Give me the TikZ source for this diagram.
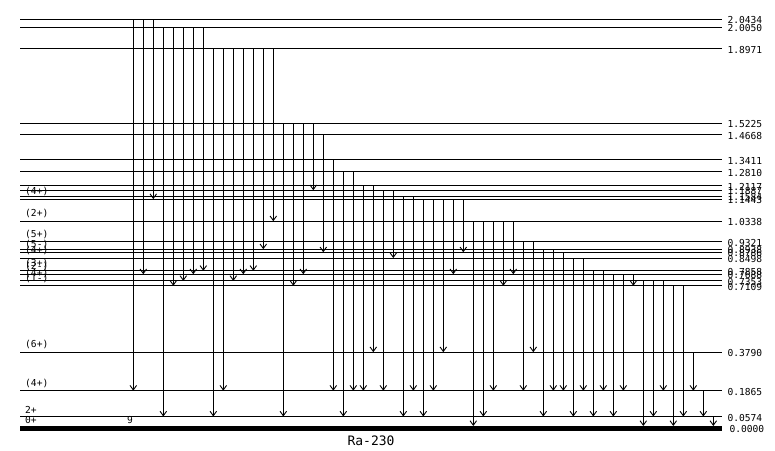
\documentclass[tikz,border=0pt]{standalone}
\usepackage{fontspec}
\setmonofont{DejaVu Sans Mono}
\usetikzlibrary{arrows.meta}

\begin{document}
\begin{tikzpicture}[
  x=1pt, y=-1pt,
  lvl/.style={draw, line width=1pt},
  gnd/.style={draw, line width=5pt},
  gam/.style={draw, line width=0.9pt, -{Straight Barb[length=4.5pt,width=6.5pt,line width=0.9pt]}},
  elab/.style={anchor=west, inner sep=0pt, font=\ttfamily\fontsize{9.6}{10}\selectfont},
  jlab/.style={anchor=south west, inner sep=0pt, font=\ttfamily\fontsize{9.6}{10}\selectfont}
]
\useasboundingbox (0,0) rectangle (775,450);

% levels (y = 428 - 200 E)
\foreach \n/\e in {2043/2.0434, 2005/2.0050, 1897/1.8971, 1522/1.5225, 1467/1.4668,
    1341/1.3411, 1281/1.2810, 1212/1.2117, 1189/1.1887, 1158/1.1584, 1144/1.1443,
    1034/1.0338, 0932/0.9321, 0894/0.8938, 0879/0.8786, 0850/0.8498,
    0786/0.7858, 0769/0.7688, 0735/0.7353, 0711/0.7109,
    0379/0.3790, 0186/0.1865, 0057/0.0574}{
  \pgfmathsetmacro{\yy}{428-200*\e}
  \coordinate (L\n) at (20,\yy);
  \draw[lvl] (L\n) -- ++(702,0) node[elab, xshift=5pt, yshift=-1pt] (E\n) {\e};
}
\coordinate (L0000) at (20,426);
\draw[gnd] ([yshift=-2.5pt]L0000) -- ++(702,0) node[elab, xshift=5pt, yshift=-0.5pt] (E0000) {0.0000};

% spins
\foreach \n/\jp in {1144/{(4+)}, 1034/{(2+)}, 0932/{(5+)}, 0879/{(5-)}, 0850/{(4+)},
    0786/{(3+)}, 0769/{(2-)}, 0735/{(4+)}, 0711/{(1-)},
    0379/{(6+)}, 0186/{(4+)}, 0057/{2+}}
  \node[jlab] (J\n) at ([xshift=5pt,yshift=3pt]L\n) {\jp};
\node[jlab] (J0000) at ([xshift=5pt,yshift=2pt]L0000) {0+};
\node[jlab] (cnt) at (127,424) {9};

% gammas, 10pt apart
\foreach \a/\b [count=\k from 0] in {2043/0186, 2043/0769, 2043/1144,
    2005/0057, 2005/0711, 2005/0735, 2005/0769, 2005/0786,
    1897/0057, 1897/0186, 1897/0735, 1897/0769, 1897/0786, 1897/0894, 1897/1034,
    1522/0057, 1522/0711, 1522/0769, 1522/1189, 1467/0879,
    1341/0186, 1281/0057, 1281/0186, 1212/0186, 1212/0379,
    1189/0186, 1189/0850, 1158/0057, 1158/0186,
    1144/0057, 1144/0186, 1144/0379, 1144/0769, 1144/0879,
    1034/0000, 1034/0057, 1034/0186, 1034/0711, 1034/0769,
    0932/0186, 0932/0379, 0894/0057, 0894/0186, 0879/0186,
    0850/0057, 0850/0186, 0786/0057, 0786/0186,
    0769/0057, 0769/0186, 0769/0711, 0735/0000, 0735/0057, 0735/0186,
    0711/0000, 0711/0057, 0379/0186, 0186/0057, 0057/0000}{
  \pgfmathsetmacro{\xx}{113.3+10*\k}
  \draw[gam] ([xshift=\xx pt]L\a) -- ([xshift=\xx pt]L\b);
}

\node[font=\ttfamily\fontsize{13}{14}\selectfont] (nuc) at (371,441) {Ra-230};
\end{tikzpicture}
\end{document}
